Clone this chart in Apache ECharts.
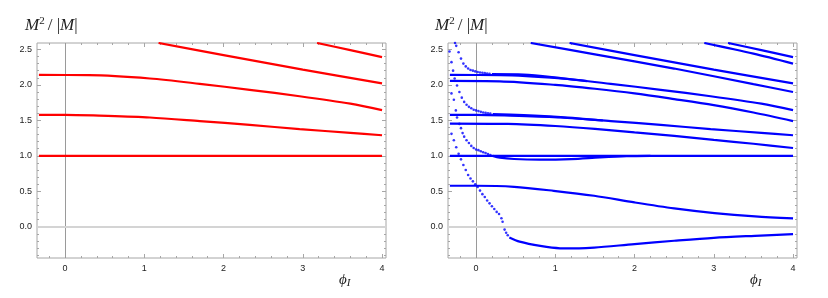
<!DOCTYPE html>
<html><head><meta charset="utf-8">
<script src="https://cdn.jsdelivr.net/npm/echarts@6/dist/echarts.min.js"></script>
<style>html,body{margin:0;padding:0;background:#fff}#c{width:828px;height:298px}</style>
</head><body><div id="c"></div>
<script>
// ---- ticks ----
const xMajorTicks = [0, 1, 2, 3, 4];
const xMinorTicks = [-0.2, 0.2, 0.4, 0.6, 0.8, 1.2, 1.4, 1.6, 1.8, 2.2, 2.4, 2.6, 2.8, 3.2, 3.4, 3.6, 3.8];
const yMajorTicks = [0, 0.5, 1, 1.5, 2, 2.5];
const yMinorTicks = [-0.4, -0.3, -0.2, -0.1, 0.1, 0.2, 0.3, 0.4, 0.6, 0.7, 0.8, 0.9, 1.1, 1.2, 1.3, 1.4, 1.6, 1.7, 1.8, 1.9, 2.1, 2.2, 2.3, 2.4];
const xRange = [-0.354, 4.05];
const yRange = [-0.44, 2.59];

// ---- curves shared by both panels ----
const levelOne = [[-0.33, 1.0], [4.0, 1.0]];
const levelTwo = [[-0.33, 1.578], [0.0, 1.578], [0.43, 1.566], [1.07, 1.54], [1.70, 1.49], [2.33, 1.437], [2.96, 1.376], [3.60, 1.324], [4.0, 1.29]];
const levelThree = [[-0.33, 2.14], [0.3, 2.137], [1.07, 2.09], [1.70, 2.015], [2.33, 1.93], [2.96, 1.84], [3.60, 1.735], [4.0, 1.645]];
const levelFour = [[1.18, 2.59], [2.0, 2.42], [3.0, 2.215], [4.0, 2.02]];
const levelFive = [[3.18, 2.59], [3.6, 2.49], [4.0, 2.39]];

// ---- extra curves of the right panel ----
const blueLevelA = [[-0.33, 2.055], [0.3, 2.05], [1.0, 2.0], [1.5, 1.945], [2.0, 1.88], [2.5, 1.80], [3.0, 1.715], [3.5, 1.61], [4.0, 1.49]];
const blueLevelB = [[-0.33, 1.455], [0.4, 1.45], [1.0, 1.42], [1.5, 1.38], [2.0, 1.33], [2.5, 1.28], [3.0, 1.225], [3.5, 1.17], [4.0, 1.11]];
const blueLevelC = [[0.69, 2.59], [1.5, 2.43], [2.5, 2.23], [3.5, 2.01], [4.0, 1.90]];
const blueLevelD = [[2.88, 2.59], [3.5, 2.44], [4.0, 2.30]];
const blueLevelE = [[-0.33, 0.578], [0.0, 0.578], [0.48, 0.563], [0.98, 0.507], [1.49, 0.437], [2.0, 0.343], [2.5, 0.259], [3.01, 0.193], [3.52, 0.146], [4.0, 0.118]];
const blueLevelF = [[0.42, -0.15], [0.55, -0.21], [0.81, -0.27], [1.06, -0.303], [1.3, -0.305], [1.49, -0.295], [2.0, -0.244], [2.5, -0.197], [3.0, -0.155], [3.52, -0.127], [4.0, -0.104]];
const blueDip = [[0.21, 1.0], [0.3, 0.975], [0.48, 0.955], [0.8, 0.945], [1.2, 0.953], [1.56, 0.977], [1.9, 0.995], [2.2, 1.0]];
const blueMergeOne = [[0.2, 2.15], [0.6, 2.145], [1.07, 2.095], [1.4, 2.052]];
const blueMergeTwo = [[0.21, 1.588], [0.6, 1.573], [1.07, 1.545], [1.6, 1.498]];

// ---- steep parts (individual dots) ----
const blueSteepOne = [[-0.265, 2.59], [-0.25, 2.55], [-0.22, 2.46], [-0.19, 2.37], [-0.16, 2.30], [-0.13, 2.26], [-0.10, 2.23], [-0.07, 2.21], [-0.04, 2.20], [-0.01, 2.19], [0.02, 2.18], [0.05, 2.175], [0.08, 2.17], [0.11, 2.165], [0.14, 2.16], [0.17, 2.155]];
const blueSteepTwo = [[-0.335, 2.47], [-0.31, 2.32], [-0.29, 2.20], [-0.27, 2.09], [-0.24, 1.99], [-0.21, 1.90], [-0.18, 1.82], [-0.15, 1.76], [-0.12, 1.72], [-0.09, 1.69], [-0.06, 1.67], [-0.03, 1.65], [0.0, 1.64], [0.03, 1.63], [0.06, 1.62], [0.09, 1.61], [0.12, 1.605], [0.15, 1.60], [0.18, 1.595]];
const blueSteepThree = [[-0.31, 1.88], [-0.28, 1.79], [-0.255, 1.64], [-0.24, 1.54], [-0.21, 1.45], [-0.19, 1.39], [-0.17, 1.32], [-0.15, 1.27], [-0.12, 1.22], [-0.09, 1.18], [-0.06, 1.14], [-0.03, 1.11], [0.0, 1.09], [0.03, 1.08], [0.06, 1.065], [0.09, 1.05], [0.12, 1.04], [0.15, 1.025], [0.18, 1.01]];
const blueSteepFour = [[-0.31, 1.31], [-0.28, 1.22], [-0.25, 1.12], [-0.22, 1.03], [-0.19, 0.95], [-0.16, 0.87], [-0.13, 0.80], [-0.10, 0.73], [-0.07, 0.68], [-0.04, 0.64], [-0.01, 0.60], [0.02, 0.56], [0.05, 0.51], [0.08, 0.46], [0.11, 0.42], [0.14, 0.37], [0.17, 0.33], [0.20, 0.29], [0.23, 0.25], [0.26, 0.21], [0.29, 0.18], [0.32, 0.12], [0.335, 0.07]];
const blueSteepFive = [[0.36, -0.04], [0.38, -0.085], [0.40, -0.12]];

const redCurves = [levelOne, levelTwo, levelThree, levelFour, levelFive];
const blueCurves = [levelOne, levelTwo, levelThree, levelFour, levelFive, blueLevelA, blueLevelB, blueLevelC, blueLevelD, blueLevelE, blueLevelF, blueDip, blueMergeOne, blueMergeTwo];
const blueDots = [blueSteepOne, blueSteepTwo, blueSteepThree, blueSteepFour, blueSteepFive];

const RED = '#ff0000', BLUE = '#0000ff', FRAME = '#a6a6a6';
const labelFont = {fontSize: 9, color: '#222', fontFamily: 'Liberation Sans'};

function xAxes(g) {
  const base = {type: 'value', gridIndex: g, min: xRange[0], max: xRange[1],
    axisLine: {show: false, onZero: false}, splitLine: {show: false}};
  return [
    Object.assign({}, base, {position: 'bottom',
      axisTick: {show: true, inside: true, length: 4, customValues: xMajorTicks, lineStyle: {color: FRAME}},
      axisLabel: Object.assign({show: true, margin: 6, customValues: xMajorTicks, formatter: v => String(v)}, labelFont)}),
    Object.assign({}, base, {position: 'bottom',
      axisTick: {show: true, inside: true, length: 2, customValues: xMinorTicks, lineStyle: {color: FRAME}},
      axisLabel: {show: false}}),
    Object.assign({}, base, {position: 'top',
      axisTick: {show: true, inside: true, length: 4, customValues: xMajorTicks, lineStyle: {color: FRAME}},
      axisLabel: {show: false}}),
    Object.assign({}, base, {position: 'top',
      axisTick: {show: true, inside: true, length: 2, customValues: xMinorTicks, lineStyle: {color: FRAME}},
      axisLabel: {show: false}})
  ];
}
function yAxes(g) {
  const base = {type: 'value', gridIndex: g, min: yRange[0], max: yRange[1],
    axisLine: {show: false, onZero: false}, splitLine: {show: false}};
  return [
    Object.assign({}, base, {position: 'left',
      axisTick: {show: true, inside: true, length: 4, customValues: yMajorTicks, lineStyle: {color: FRAME}},
      axisLabel: Object.assign({show: true, margin: 5, customValues: yMajorTicks, formatter: v => v.toFixed(1)}, labelFont)}),
    Object.assign({}, base, {position: 'left',
      axisTick: {show: true, inside: true, length: 2, customValues: yMinorTicks, lineStyle: {color: FRAME}},
      axisLabel: {show: false}}),
    Object.assign({}, base, {position: 'right',
      axisTick: {show: true, inside: true, length: 4, customValues: yMajorTicks, lineStyle: {color: FRAME}},
      axisLabel: {show: false}}),
    Object.assign({}, base, {position: 'right',
      axisTick: {show: true, inside: true, length: 2, customValues: yMinorTicks, lineStyle: {color: FRAME}},
      axisLabel: {show: false}})
  ];
}

function lineSeries(data, axisIdx, color) {
  return {type: 'line', data: data, xAxisIndex: axisIdx, yAxisIndex: axisIdx,
    showSymbol: false, smooth: 0.3, clip: true, z: 3,
    lineStyle: {color: color, width: 2.2}, silent: true, animation: false};
}
function dotSeries(data, axisIdx, color) {
  return {type: 'scatter', data: data, xAxisIndex: axisIdx, yAxisIndex: axisIdx,
    symbol: 'circle', symbolSize: 2.6, itemStyle: {color: color}, clip: true, z: 3,
    silent: true, animation: false};
}
function zeroLines(axisIdx) {
  return {type: 'line', data: [], xAxisIndex: axisIdx, yAxisIndex: axisIdx, z: 1, silent: true,
    markLine: {silent: true, symbol: 'none', z: 1, animation: false, label: {show: false},
      data: [
        {xAxis: 0, lineStyle: {color: '#9a9a9a', width: 1, type: 'solid'}},
        {yAxis: 0, lineStyle: {color: '#d4d4d4', width: 1.8, type: 'solid'}}
      ]}};
}

const series = [zeroLines(0), zeroLines(4)];
redCurves.forEach(c => series.push(lineSeries(c, 0, RED)));
blueCurves.forEach(c => series.push(lineSeries(c, 4, BLUE)));
blueDots.forEach(c => series.push(dotSeries(c, 4, BLUE)));

const titleRich = {
  i: {fontFamily: 'Liberation Serif', fontStyle: 'italic', fontWeight: 'normal', fontSize: 17, color: '#222'},
  s: {fontFamily: 'Liberation Serif', fontWeight: 'normal', fontSize: 11, color: '#222', verticalAlign: 'top', padding: [0, 3, 8, 0]},
  n: {fontFamily: 'Liberation Serif', fontWeight: 'normal', fontSize: 17, color: '#222'},
  p: {fontFamily: 'Liberation Serif', fontStyle: 'italic', fontWeight: 'normal', fontSize: 15, color: '#222'},
  sub: {fontFamily: 'Liberation Serif', fontStyle: 'italic', fontWeight: 'normal', fontSize: 11, color: '#222', padding: [7, 0, 0, 0]}
};
const yTitle = '{i|M}{s|2}{n|/ |}{i|M}{n||}';
const xTitle = '{p|ϕ}{sub|I}';

const chart = echarts.init(document.getElementById('c'), null, {renderer: 'canvas'});
chart.setOption({
  animation: false,
  backgroundColor: '#ffffff',
  title: [
    {text: yTitle, left: 20, top: 11, textStyle: {fontWeight: 'normal', rich: titleRich}},
    {text: yTitle, left: 430, top: 11, textStyle: {fontWeight: 'normal', rich: titleRich}},
    {text: xTitle, left: 334, top: 266, textStyle: {fontWeight: 'normal', rich: titleRich}},
    {text: xTitle, left: 745, top: 266, textStyle: {fontWeight: 'normal', rich: titleRich}}
  ],
  grid: [
    {left: 37, top: 43, width: 349, height: 215, show: true, borderColor: FRAME, borderWidth: 1, containLabel: false},
    {left: 448, top: 43, width: 349, height: 215, show: true, borderColor: FRAME, borderWidth: 1, containLabel: false}
  ],
  xAxis: xAxes(0).concat(xAxes(1)),
  yAxis: yAxes(0).concat(yAxes(1)),
  series: series
});
</script></body></html>
